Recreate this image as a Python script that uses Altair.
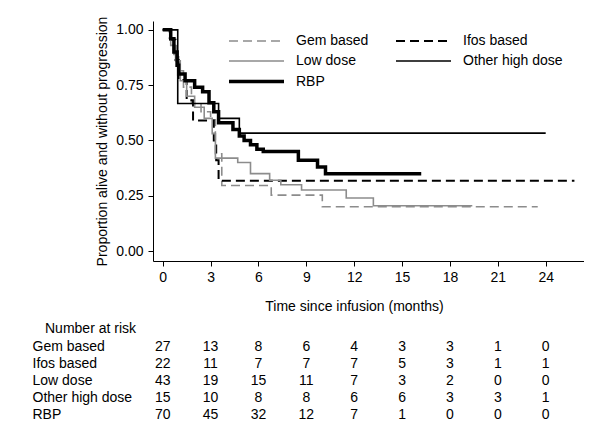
import altair as alt
import pandas as pd

FONT = "Liberation Sans"

groups = ["Gem based", "Ifos based", "Low dose", "Other high dose", "RBP"]

# Kaplan-Meier step points (time in months, proportion)
gem_t = [0, 0.4, 0.7, 1.0, 1.3, 1.8, 2.4, 3.0, 3.3, 3.7, 6.8, 10.0, 23.5]
gem_s = [1.0, 0.963, 0.889, 0.815, 0.741, 0.667, 0.630, 0.593, 0.44, 0.296, 0.253, 0.20, 0.20]

ifos_t = [0, 0.5, 0.8, 1.0, 1.5, 1.9, 3.2, 3.35, 3.5, 25.8]
ifos_s = [1.0, 0.955, 0.864, 0.773, 0.682, 0.59, 0.50, 0.41, 0.318, 0.318]

low_t = [0, 0.5, 0.8, 1.1, 1.5, 2.0, 2.6, 3.1, 3.3, 4.7, 5.5, 6.7, 7.4, 8.7, 11.5, 13.2, 19.4]
low_s = [1.0, 0.93, 0.86, 0.77, 0.70, 0.65, 0.60, 0.53, 0.42, 0.40, 0.35, 0.32, 0.30, 0.276, 0.24, 0.205, 0.205]

other_t = [0, 0.94, 3.5, 4.8, 24.0]
other_s = [1.0, 0.667, 0.60, 0.533, 0.533]

rbp_t = [0, 0.5, 0.7, 0.9, 1.0, 1.4, 2.0, 2.5, 2.9, 3.2, 3.5, 4.4, 4.8, 5.1, 5.5, 5.9, 6.3, 8.5, 9.7, 10.2, 16.2]
rbp_s = [1.0, 0.96, 0.90, 0.84, 0.80, 0.77, 0.74, 0.72, 0.67, 0.63, 0.58, 0.55, 0.52, 0.50, 0.48, 0.46, 0.45, 0.41, 0.38, 0.35, 0.35]

# Number at risk table
risk_times = [0, 3, 6, 9, 12, 15, 18, 21, 24]
risk_gem = [27, 13, 8, 6, 4, 3, 3, 1, 0]
risk_ifos = [22, 11, 7, 7, 7, 5, 3, 1, 1]
risk_low = [43, 19, 15, 11, 7, 3, 2, 0, 0]
risk_other = [15, 10, 8, 8, 6, 6, 3, 3, 1]
risk_rbp = [70, 45, 32, 12, 7, 1, 0, 0, 0]

curves = {
    "Gem based": (gem_t, gem_s),
    "Ifos based": (ifos_t, ifos_s),
    "Low dose": (low_t, low_s),
    "Other high dose": (other_t, other_s),
    "RBP": (rbp_t, rbp_s),
}
rows = []
for g, (ts, ss) in curves.items():
    for i, (t, s) in enumerate(zip(ts, ss)):
        rows.append({"group": g, "t": t, "s": s, "order": i})
km = pd.DataFrame(rows)

risks = {
    "Gem based": risk_gem,
    "Ifos based": risk_ifos,
    "Low dose": risk_low,
    "Other high dose": risk_other,
    "RBP": risk_rbp,
}
rrows = []
for g, vals in risks.items():
    for t, n in zip(risk_times, vals):
        rrows.append({"group": g, "time": t, "n": n})
risk_df = pd.DataFrame(rrows)

XDOM = [-0.61, 26.4]
W = 431

legend = alt.Legend(
    title=None, orient="none", legendX=69, legendY=13, columns=2, direction="horizontal",
    symbolType="M-5,0H5", symbolSize=121, symbolOffset=27, labelOffset=32,
    labelFontSize=14, labelFont=FONT, labelColor="black",
    rowPadding=6, columnPadding=20, padding=0,
)

km_chart = alt.Chart(km).mark_line(interpolate="step-after").encode(
    x=alt.X("t:Q", scale=alt.Scale(domain=XDOM, nice=False, zero=False),
            axis=alt.Axis(values=risk_times, title="Time since infusion (months)",
                          titleX=201, titlePadding=15, labelPadding=4)),
    y=alt.Y("s:Q", scale=alt.Scale(domain=[-0.045, 1.04], nice=False, zero=False),
            axis=alt.Axis(values=[0, 0.25, 0.5, 0.75, 1.0], format=".2f",
                          title="Proportion alive and without progression",
                          titlePadding=6, labelPadding=5)),
    color=alt.Color("group:N", scale=alt.Scale(domain=groups,
                    range=["#8c8c8c", "#000000", "#8c8c8c", "#000000", "#000000"]), legend=legend),
    strokeDash=alt.StrokeDash("group:N", scale=alt.Scale(domain=groups,
                    range=[[9, 5], [9, 5], [1, 0], [1, 0], [1, 0]]), legend=legend),
    strokeWidth=alt.StrokeWidth("group:N", scale=alt.Scale(type="ordinal", domain=groups,
                    range=[1.6, 2.0, 1.6, 1.6, 3.5]), legend=legend),
    order="order:Q",
).properties(width=W, height=240)

table = alt.Chart(risk_df).mark_text(fontSize=14, font=FONT, color="black").encode(
    x=alt.X("time:Q", scale=alt.Scale(domain=XDOM, nice=False, zero=False), axis=None),
    y=alt.Y("group:N", sort=groups,
            axis=alt.Axis(title=None, domain=False, ticks=False, labelAlign="left",
                          labelPadding=121, labelFontSize=14, labelFont=FONT, labelColor="black")),
    text="n:Q",
).properties(
    width=W, height=85,
    title=alt.TitleParams("Number at risk", anchor="start", frame="group", dx=-108, fontSize=14,
                          fontWeight="normal", font=FONT, color="black", offset=2),
)

chart = alt.vconcat(km_chart, table, spacing=9).properties(
    padding={"left": 24, "top": 8, "right": 0, "bottom": 5}
).configure_view(stroke=None).configure_axis(
    grid=False, domainColor="black", tickColor="black", labelColor="black",
    titleColor="black", labelFont=FONT, titleFont=FONT, labelFontSize=14,
    titleFontSize=14, titleFontWeight="normal", tickSize=5,
)

chart.save("out.html", embed_options={"renderer": "svg", "actions": False})
